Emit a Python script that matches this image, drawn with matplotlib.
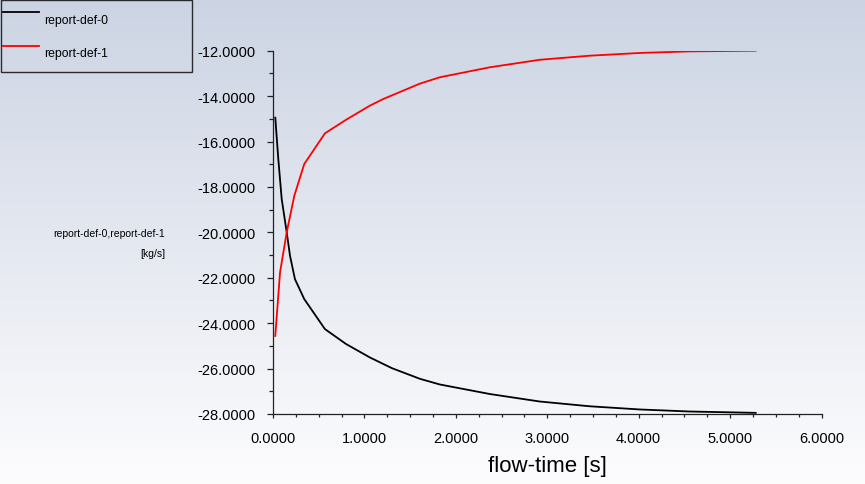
import numpy as np
import matplotlib
matplotlib.use("Agg")
import matplotlib.pyplot as plt
from matplotlib.ticker import MultipleLocator, FormatStrFormatter

plt.rcParams['font.family'] = ['Liberation Sans', 'DejaVu Sans']

# report-def-0 (black), values
t0 = [0.025, 0.058, 0.095, 0.150, 0.186, 0.240, 0.342, 0.568, 0.800, 1.060,
      1.300, 1.607, 1.825, 2.372, 2.918, 3.464, 4.011, 4.557, 5.280]
r0 = [-14.95, -16.77, -18.53, -20.00, -21.03, -22.06, -22.94, -24.26, -24.92, -25.51,
      -25.98, -26.45, -26.70, -27.12, -27.45, -27.66, -27.80, -27.89, -27.95]

# report-def-1 (red)
t1 = [0.025, 0.077, 0.150, 0.233, 0.342, 0.568, 0.800, 1.060, 1.205, 1.607,
      1.825, 2.372, 2.918, 3.464, 4.011, 4.557, 5.280]
r1 = [-24.56, -21.76, -20.00, -18.39, -16.99, -15.64, -15.04, -14.42, -14.13, -13.45,
      -13.17, -12.73, -12.40, -12.22, -12.10, -12.03, -12.00]

labels = ['report-def-0', 'report-def-1']

W, H = 865, 485
fig = plt.figure(figsize=(W / 100, H / 100), dpi=100)

# gradient background (Fluent style)
bg = fig.add_axes([0, 0, 1, 1])
top = np.array([0.80, 0.83, 0.89])
bot = np.array([0.99, 0.99, 0.995])
g = np.linspace(0, 1, 256)[:, None]
grad = top[None, :] * (1 - g) + bot[None, :] * g
bg.imshow(grad[:, None, :], aspect='auto', extent=[0, 1, 0, 1])
bg.axis('off')

x0, x1 = 273, 821.5
y_top, y_bot = 51.7, 415
ax = fig.add_axes([x0 / W, 1 - y_bot / H, (x1 - x0) / W, (y_bot - y_top) / H])
ax.patch.set_alpha(0)

l0, = ax.plot(t0, r0, color='black', lw=1.3, label=labels[0])
l1, = ax.plot(t1, r1, color='#ff0000', lw=1.3, label=labels[1])

ax.set_xlim(0, 6)
ax.set_ylim(-28, -12)
ax.xaxis.set_major_locator(MultipleLocator(1))
ax.xaxis.set_minor_locator(MultipleLocator(0.25))
ax.yaxis.set_major_locator(MultipleLocator(2))
ax.yaxis.set_minor_locator(MultipleLocator(1))
ax.xaxis.set_major_formatter(FormatStrFormatter('%.4f'))
ax.yaxis.set_major_formatter(FormatStrFormatter('%.4f'))

for s in ['top', 'right']:
    ax.spines[s].set_visible(False)
for s in ['left', 'bottom']:
    ax.spines[s].set_linewidth(0.9)
    ax.spines[s].set_color('#222222')

ax.tick_params(axis='y', which='major', length=4.5, width=0.9, pad=8, labelsize=10.5, color='#222222')
ax.tick_params(axis='y', which='minor', length=3, width=0.9, color='#222222')
ax.tick_params(axis='x', which='major', length=3, width=0.9, pad=9, labelsize=10.5, color='#222222')
ax.tick_params(axis='x', which='minor', length=2.2, width=0.9, color='#222222')

ax.set_xlabel('flow-time [s]', fontsize=16)
ax.xaxis.set_label_coords(0.5, (y_bot - 467) / (y_bot - y_top))
ax.xaxis.label.set_va('center')

ax.set_ylabel('report-def-0,report-def-1\n[kg/s]', rotation=0, fontsize=7.5,
              ha='right', va='center', multialignment='right', linespacing=2.3)
ax.yaxis.set_label_coords((165 - x0) / (x1 - x0), (y_bot - 244) / (y_bot - y_top))

leg = fig.legend(handles=[l0, l1], loc='upper left',
                 bbox_to_anchor=(1 / W, 1 - 72 / H, 191 / W, 71 / H),
                 mode='expand', borderaxespad=0, fontsize=8.8,
                 handlelength=2.9, handleheight=3.85, handletextpad=0.45,
                 labelspacing=0, borderpad=0.2, fancybox=False,
                 edgecolor='black', facecolor='none', framealpha=None)
leg.get_frame().set_linewidth(1.0)

fig.savefig('out.png', dpi=100)
